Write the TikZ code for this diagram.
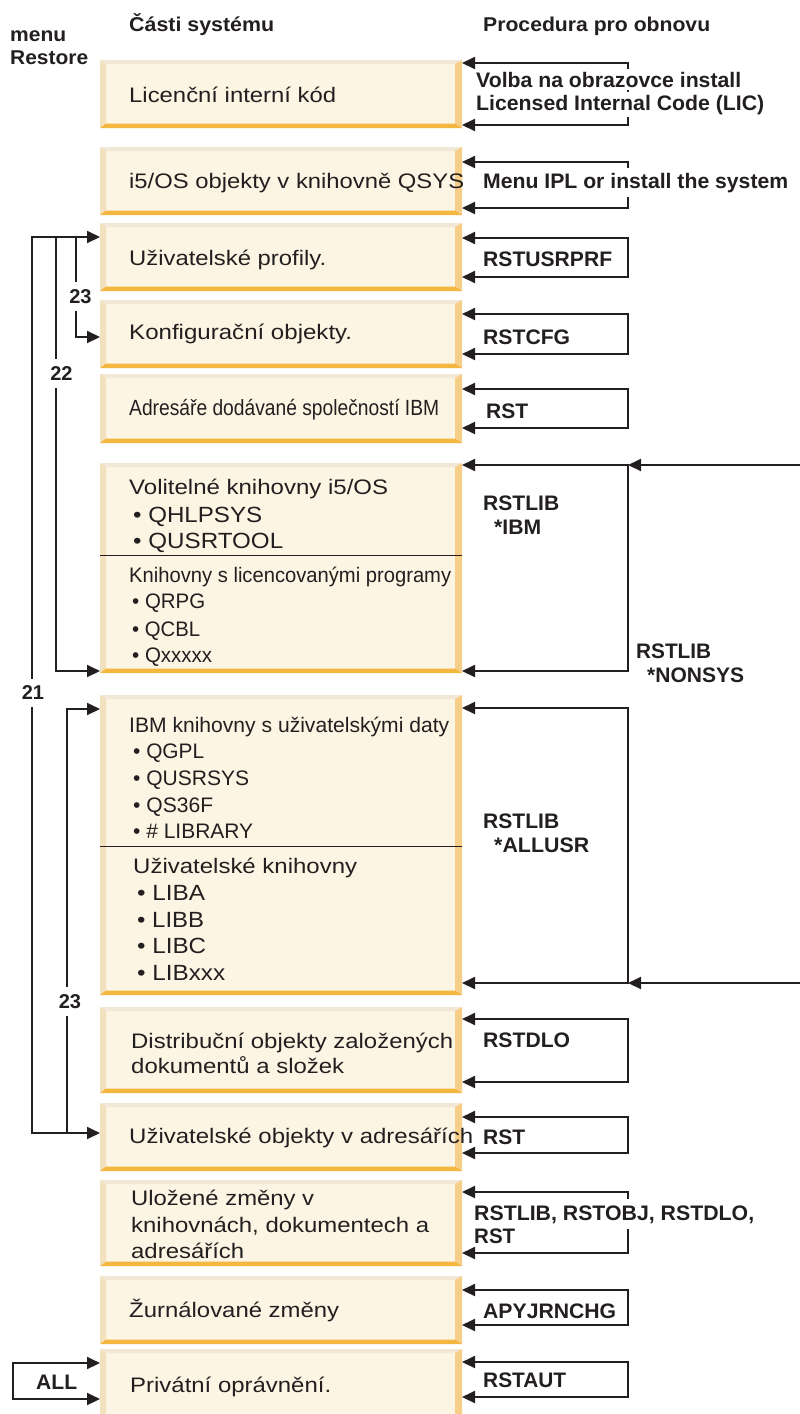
\documentclass[tikz,border=0pt]{standalone}
\usepackage{fontspec}
\setmainfont{Liberation Sans}
\usepackage{graphicx}
\usetikzlibrary{arrows.meta}

\definecolor{boxfill}{HTML}{FCF5E3}
\definecolor{beveltop}{HTML}{F2E8D8}
\definecolor{bevelleft}{HTML}{F3E0BC}
\definecolor{bevelright}{HTML}{F6CE88}
\definecolor{bevelbottom}{HTML}{F3B63E}
\definecolor{ink}{HTML}{231F20}

% set a line of text at a given width (in pt), scaling it horizontally only
\newlength\fitlen
\newcommand\fitto[2]{\settowidth\fitlen{#2}\pgfmathsetmacro\fitfac{#1/\fitlen}\scalebox{\fitfac}[1]{#2}}

\tikzset{
  panel/.style={rectangle, inner sep=0pt, outer sep=0pt, anchor=north west,
    minimum width=362pt, fill=boxfill,
    path picture={
      \fill[beveltop] (path picture bounding box.north west) -- (path picture bounding box.north east)
        -- ([shift={(-7pt,-4pt)}]path picture bounding box.north east)
        -- ([shift={(6pt,-4pt)}]path picture bounding box.north west) -- cycle;
      \fill[bevelleft] (path picture bounding box.north west)
        -- ([shift={(6pt,-4pt)}]path picture bounding box.north west)
        -- ([shift={(6pt,4.5pt)}]path picture bounding box.south west)
        -- (path picture bounding box.south west) -- cycle;
      \fill[bevelright] (path picture bounding box.north east) -- (path picture bounding box.south east)
        -- ([shift={(-7pt,4.5pt)}]path picture bounding box.south east)
        -- ([shift={(-7pt,-4pt)}]path picture bounding box.north east) -- cycle;
      \fill[bevelbottom] (path picture bounding box.south west) -- (path picture bounding box.south east)
        -- ([shift={(-7pt,4.5pt)}]path picture bounding box.south east)
        -- ([shift={(6pt,4.5pt)}]path picture bounding box.south west) -- cycle;
    }},
  txt/.style={anchor=base west, inner sep=0pt, text=ink, font=\fontsize{21}{25}\selectfont},
  bigtxt/.style={txt, font=\fontsize{22}{26}\selectfont},
  lab/.style={txt, font=\fontsize{21}{25}\selectfont\bfseries},
  head/.style={txt, font=\fontsize{20}{24}\selectfont\bfseries},
  cover/.style={lab, fill=white, inner ysep=3pt},
  num/.style={font=\fontsize{20}{24}\selectfont\bfseries, text=ink, fill=white,
    inner xsep=2pt, inner ysep=7.5pt},
  wire/.style={draw=ink, line width=2pt},
  tip/.style={wire, -{Triangle[length=13pt,width=12pt]}},
  link/.style={wire, {Triangle[length=13pt,width=12pt]}-{Triangle[length=13pt,width=12pt]}},
  divider/.style={draw=ink, line width=1pt},
}

% right-hand bracket: two arrows into the east side of a panel
\newcommand\rbracket[3]{%
  \coordinate (#1ra) at (628,#2);
  \coordinate (#1rb) at (628,#3);
  \draw[link] (#1.east |- #1ra) -- (#1ra) -- (#1rb) -- (#1.east |- #1rb);
}

\begin{document}
\begin{tikzpicture}[x=1pt,y=-1pt]
\useasboundingbox (0,0) rectangle (800,1414);

% ---- panels
\node[panel, minimum height=68pt]  (b1)  at (100,60)   {};
\node[panel, minimum height=68pt]  (b2)  at (100,147)  {};
\node[panel, minimum height=68pt]  (b3)  at (100,223)  {};
\node[panel, minimum height=68pt]  (b4)  at (100,300)  {};
\node[panel, minimum height=69pt]  (b5)  at (100,374)  {};
\node[panel, minimum height=210pt] (b6)  at (100,463)  {};
\node[panel, minimum height=300pt] (b7)  at (100,695)  {};
\node[panel, minimum height=86pt]  (b8)  at (100,1007) {};
\node[panel, minimum height=68pt]  (b9)  at (100,1103) {};
\node[panel, minimum height=86pt]  (b10) at (100,1180) {};
\node[panel, minimum height=68pt]  (b11) at (100,1276) {};
\node[panel, minimum height=72pt]  (b12) at (100,1349) {};

\coordinate (d6) at (100,555);
\coordinate (d7) at (100,846);
\draw[divider] (d6) -- (b6.east |- d6);
\draw[divider] (d7) -- (b7.east |- d7);

% ---- column headings
\node[head] (hmenu) at (10,41) {\fitto{56}{menu}};
\node[head] (hrest) at (10,64) {\fitto{78}{Restore}};
\node[head] (hparts) at (129,31.5) {\fitto{145}{Části systému}};
\node[head] (hproc) at (483,31) {\fitto{227}{Procedura pro obnovu}};

% ---- panel texts
\node[txt] (t1) at (129,102) {\fitto{207}{Licenční interní kód}};
\node[txt] (t2) at (129,188) {\fitto{335}{i5/OS objekty v knihovně QSYS}};
\node[txt] (t3) at (129,265) {\fitto{197}{Uživatelské profily.}};
\node[txt] (t4) at (129,339) {\fitto{223}{Konfigurační objekty.}};
\node[bigtxt] (t5) at (129,415) {\fitto{310}{Adresáře dodávané společností IBM}};

\node[txt] (t6a) at (129,494) {\fitto{259}{Volitelné knihovny i5/OS}};
\node[bigtxt] (t6b) at (133,522) {\fitto{129}{• QHLPSYS}};
\node[bigtxt] (t6c) at (133,548) {\fitto{150}{• QUSRTOOL}};
\node[txt] (t6d) at (129,582) {\fitto{322}{Knihovny s licencovanými programy}};
\node[txt] (t6e) at (132,608) {\fitto{73}{• QRPG}};
\node[txt] (t6f) at (132,636) {\fitto{68}{• QCBL}};
\node[txt] (t6g) at (132,662) {\fitto{80}{• Qxxxxx}};

\node[txt] (t7a) at (129,732) {\fitto{320}{IBM knihovny s uživatelskými daty}};
\node[txt] (t7b) at (133,758) {\fitto{71}{• QGPL}};
\node[txt] (t7c) at (133,785) {\fitto{116}{• QUSRSYS}};
\node[txt] (t7d) at (133,812) {\fitto{80}{• QS36F}};
\node[txt] (t7e) at (133,838) {\fitto{120}{• \# LIBRARY}};
\node[txt] (t7f) at (133,873) {\fitto{224}{Uživatelské knihovny}};
\node[bigtxt] (t7g) at (137,900) {\fitto{68}{• LIBA}};
\node[bigtxt] (t7h) at (137,927) {\fitto{67}{• LIBB}};
\node[bigtxt] (t7i) at (137,953) {\fitto{69}{• LIBC}};
\node[bigtxt] (t7j) at (137,980) {\fitto{88}{• LIBxxx}};

\node[txt] (t8a) at (131,1048) {\fitto{322}{Distribuční objekty založených}};
\node[txt] (t8b) at (131,1073) {\fitto{213}{dokumentů a složek}};
\node[txt] (t9)  at (129,1143) {\fitto{344}{Uživatelské objekty v adresářích}};
\node[txt] (t10a) at (131,1205) {\fitto{183}{Uložené změny v}};
\node[txt] (t10b) at (131,1232) {\fitto{298}{knihovnách, dokumentech a}};
\node[txt] (t10c) at (131,1258) {\fitto{113}{adresářích}};
\node[txt] (t11) at (129,1317) {\fitto{210}{Žurnálované změny}};
\node[txt] (t12) at (130,1392) {\fitto{201}{Privátní oprávnění.}};

% ---- right-hand restore commands
\rbracket{b1}{63}{125}
\rbracket{b2}{162}{208}
\rbracket{b3}{238}{277}
\rbracket{b4}{314}{354}
\rbracket{b5}{389}{428}
\rbracket{b6}{465}{671}
\rbracket{b7}{708}{983}
\rbracket{b8}{1019}{1082}
\rbracket{b9}{1117}{1153}
\rbracket{b10}{1192}{1253}
\rbracket{b11}{1290}{1325}
\rbracket{b12}{1362}{1397}

\coordinate (ns1) at (800,465);
\coordinate (ns2) at (800,983);
\draw[tip] (ns1) -- (b6ra);
\draw[tip] (ns2) -- (b7rb);

% ---- left-hand menu options
\coordinate (o21t) at (32,237);
\coordinate (o21b) at (32,1133);
\coordinate (o22t) at (56,237);
\coordinate (o22b) at (56,671);
\coordinate (o23t) at (76,237);
\coordinate (o23b) at (76,337);
\coordinate (o23c) at (67,709);
\coordinate (o23d) at (67,1133);
\draw[link] (b3.west |- o21t) -- (o21t) -- (o21b) -- (b9.west |- o21b);
\draw[tip] (o22t) -- (o22b) -- (b6.west |- o22b);
\draw[tip] (o23t) -- (o23b) -- (b4.west |- o23b);
\draw[tip] (o23d) -- (o23c) -- (b7.west |- o23c);

\coordinate (alla) at (13,1363);
\coordinate (allb) at (13,1399);
\draw[link] (b12.west |- alla) -- (alla) -- (allb) -- (b12.west |- allb);

\node[num] (n23a) at (80.5,296.5) {23};
\node[num] (n22)  at (61.5,373.5) {22};
\node[num] (n21)  at (33,693)     {21};
\node[num] (n23b) at (70,1001.5)  {23};
\node[lab] (nall) at (36,1389)    {\fitto{41}{ALL}};

% ---- command labels
\node[cover] (c1a) at (476,87)  {\fitto{265}{Volba na obrazovce install}};
\node[cover] (c1b) at (476,110) {\fitto{288}{Licensed Internal Code (LIC)}};
\node[cover, inner ysep=5pt] (c2) at (483,188) {\fitto{305}{Menu IPL or install the system}};
\node[lab] (c3) at (483,266) {\fitto{129}{RSTUSRPRF}};
\node[lab] (c4) at (483,344) {\fitto{87}{RSTCFG}};
\node[lab] (c5) at (486,418) {\fitto{42}{RST}};
\node[lab] (c6a) at (483,510) {\fitto{76}{RSTLIB}};
\node[lab] (c6b) at (494,534) {\fitto{47}{*IBM}};
\node[lab] (c6c) at (636,658) {\fitto{75}{RSTLIB}};
\node[lab] (c6d) at (647,682) {\fitto{97}{*NONSYS}};
\node[lab] (c7a) at (483,828) {\fitto{76}{RSTLIB}};
\node[lab] (c7b) at (494,852) {\fitto{95}{*ALLUSR}};
\node[lab] (c8) at (483,1047) {\fitto{87}{RSTDLO}};
\node[lab] (c9) at (483,1144) {\fitto{42}{RST}};
\node[cover, inner ysep=6pt] (c10a) at (474,1220) {\fitto{280}{RSTLIB, RSTOBJ, RSTDLO,}};
\node[lab] (c10b) at (474,1243) {\fitto{41}{RST}};
\node[lab] (c11) at (483,1318) {\fitto{133}{APYJRNCHG}};
\node[lab] (c12) at (483,1387) {\fitto{83}{RSTAUT}};
\end{tikzpicture}
\end{document}
